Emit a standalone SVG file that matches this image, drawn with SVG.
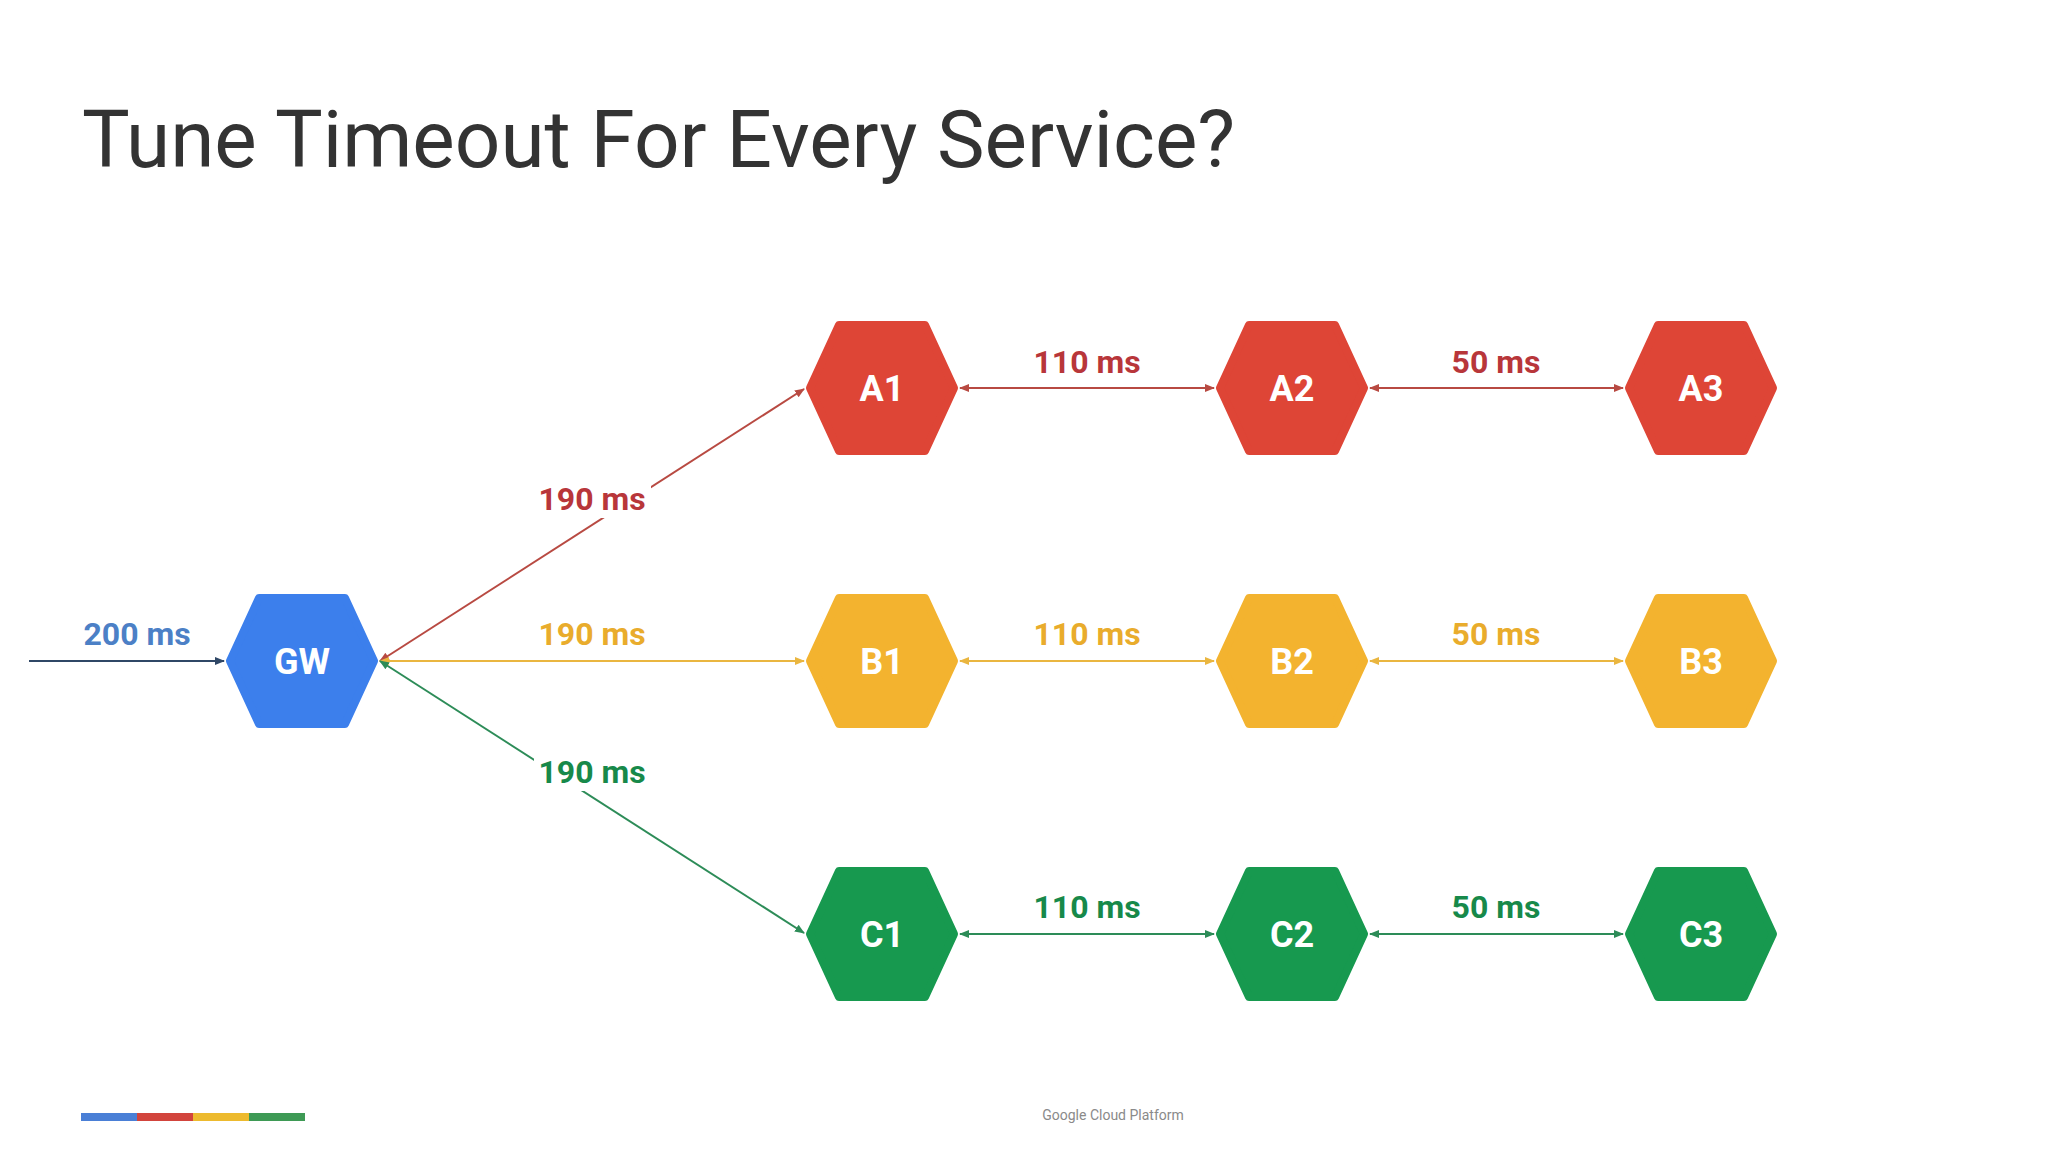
<svg xmlns="http://www.w3.org/2000/svg" xmlns:xlink="http://www.w3.org/1999/xlink" width="2048" height="1152" viewBox="0 0 2048 1152">
<style>
.title{font-family:Roboto,"Liberation Sans",sans-serif;font-size:80px;fill:#333333}
.nl{font-family:Roboto,"Liberation Sans",sans-serif;font-size:36px;font-weight:700;fill:#ffffff;text-anchor:middle}
.el{font-family:Roboto,"Liberation Sans",sans-serif;font-size:32px;font-weight:700;text-anchor:middle}
.hex{stroke-width:8;stroke-linejoin:round}
.red{fill:#DE4536;stroke:#DE4536}
.yel{fill:#F3B32F;stroke:#F3B32F}
.grn{fill:#17994F;stroke:#17994F}
.blu{fill:#3C7FEC;stroke:#3C7FEC}
.ln{fill:none;stroke-width:2}
.lr{stroke:#B84A42}.ly{stroke:#EAB640}.lg{stroke:#2D8C58}.lb{stroke:#2F4766}
.tr{fill:#B8363A}.ty{fill:#E9AC2C}.tg{fill:#17894A}.tb{fill:#4C80C6}
.foot{font-family:Roboto,"Liberation Sans",sans-serif;font-size:14px;fill:#8a8a8a;text-anchor:middle}
</style>
<defs>
<path id="hex" d="M-72,0 L-43,-63 L43,-63 L72,0 L43,63 L-43,63 Z"/>
<marker id="mr" viewBox="0 0 10 10" refX="9" refY="5" markerWidth="5" markerHeight="5" orient="auto-start-reverse"><path d="M0,1 L10,5 L0,9 Z" fill="#B84A42"/></marker>
<marker id="my" viewBox="0 0 10 10" refX="9" refY="5" markerWidth="5" markerHeight="5" orient="auto-start-reverse"><path d="M0,1 L10,5 L0,9 Z" fill="#EAB640"/></marker>
<marker id="mg" viewBox="0 0 10 10" refX="9" refY="5" markerWidth="5" markerHeight="5" orient="auto-start-reverse"><path d="M0,1 L10,5 L0,9 Z" fill="#2D8C58"/></marker>
<marker id="mb" viewBox="0 0 10 10" refX="9" refY="5" markerWidth="5" markerHeight="5" orient="auto-start-reverse"><path d="M0,1 L10,5 L0,9 Z" fill="#2F4766"/></marker>
</defs>
<rect width="2048" height="1152" fill="#ffffff"/>
<text class="title" x="82" y="167">Tune Timeout For Every Service?</text>

<g id="connectors">
<line class="ln lb" x1="29" y1="661" x2="224" y2="661" marker-end="url(#mb)"/>
<line class="ln lr" x1="380" y1="661" x2="804" y2="389" marker-start="url(#mr)" marker-end="url(#mr)"/>
<line class="ln ly" x1="380" y1="661" x2="804" y2="661" marker-start="url(#my)" marker-end="url(#my)"/>
<line class="ln lg" x1="380" y1="661" x2="804" y2="933" marker-start="url(#mg)" marker-end="url(#mg)"/>
<line class="ln lr" x1="960" y1="388" x2="1214" y2="388" marker-start="url(#mr)" marker-end="url(#mr)"/>
<line class="ln lr" x1="1370" y1="388" x2="1623" y2="388" marker-start="url(#mr)" marker-end="url(#mr)"/>
<line class="ln ly" x1="960" y1="661" x2="1214" y2="661" marker-start="url(#my)" marker-end="url(#my)"/>
<line class="ln ly" x1="1370" y1="661" x2="1623" y2="661" marker-start="url(#my)" marker-end="url(#my)"/>
<line class="ln lg" x1="960" y1="934" x2="1214" y2="934" marker-start="url(#mg)" marker-end="url(#mg)"/>
<line class="ln lg" x1="1370" y1="934" x2="1623" y2="934" marker-start="url(#mg)" marker-end="url(#mg)"/>
<text class="el tb" x="137" y="645">200 ms</text>
<rect x="534" y="482" width="117" height="36" fill="#ffffff"/>
<text class="el tr" x="592" y="510">190 ms</text>
<text class="el ty" x="592" y="645">190 ms</text>
<rect x="534" y="755" width="117" height="36" fill="#ffffff"/>
<text class="el tg" x="592" y="783">190 ms</text>
<text class="el tr" x="1087" y="373">110 ms</text>
<text class="el tr" x="1496" y="373">50 ms</text>
<text class="el ty" x="1087" y="645">110 ms</text>
<text class="el ty" x="1496" y="645">50 ms</text>
<text class="el tg" x="1087" y="918">110 ms</text>
<text class="el tg" x="1496" y="918">50 ms</text>
</g>

<g id="node-GW" transform="translate(302,661)"><use xlink:href="#hex" href="#hex" class="hex blu"/><text class="nl" y="13">GW</text></g>
<g id="node-A1" transform="translate(882,388)"><use xlink:href="#hex" href="#hex" class="hex red"/><text class="nl" y="13">A1</text></g>
<g id="node-A2" transform="translate(1292,388)"><use xlink:href="#hex" href="#hex" class="hex red"/><text class="nl" y="13">A2</text></g>
<g id="node-A3" transform="translate(1701,388)"><use xlink:href="#hex" href="#hex" class="hex red"/><text class="nl" y="13">A3</text></g>
<g id="node-B1" transform="translate(882,661)"><use xlink:href="#hex" href="#hex" class="hex yel"/><text class="nl" y="13">B1</text></g>
<g id="node-B2" transform="translate(1292,661)"><use xlink:href="#hex" href="#hex" class="hex yel"/><text class="nl" y="13">B2</text></g>
<g id="node-B3" transform="translate(1701,661)"><use xlink:href="#hex" href="#hex" class="hex yel"/><text class="nl" y="13">B3</text></g>
<g id="node-C1" transform="translate(882,934)"><use xlink:href="#hex" href="#hex" class="hex grn"/><text class="nl" y="13">C1</text></g>
<g id="node-C2" transform="translate(1292,934)"><use xlink:href="#hex" href="#hex" class="hex grn"/><text class="nl" y="13">C2</text></g>
<g id="node-C3" transform="translate(1701,934)"><use xlink:href="#hex" href="#hex" class="hex grn"/><text class="nl" y="13">C3</text></g>

<g id="footer">
<rect x="81" y="1113" width="56" height="8" fill="#4A7FD6"/>
<rect x="137" y="1113" width="56" height="8" fill="#D2443C"/>
<rect x="193" y="1113" width="56" height="8" fill="#EDBA2E"/>
<rect x="249" y="1113" width="56" height="8" fill="#3E9A55"/>
<text class="foot" x="1113" y="1120">Google Cloud Platform</text>
</g>
</svg>
